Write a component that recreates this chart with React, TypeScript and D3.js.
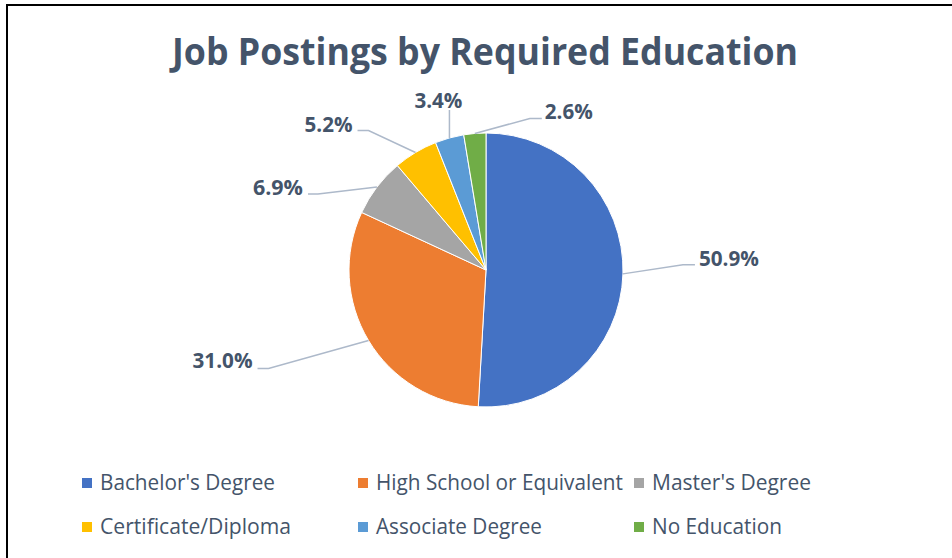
import React from "react";
import * as d3 from "d3";

const categories = [
  "Bachelor's Degree",
  "High School or Equivalent",
  "Master's Degree",
  "Certificate/Diploma",
  "Associate Degree",
  "No Education",
];
const values = [50.9, 31.0, 6.9, 5.2, 3.4, 2.6];
const colors = ["#4472C4", "#ED7D31", "#A5A5A5", "#FFC000", "#5B9BD5", "#70AD47"];
const title = "Job Postings by Required Education";

// leader-line layout per slice: elbow & end offsets from slice edge point, label anchor
const labelLayout = [
  { ex: 60, ey: -9, lx: 72, ly: -9, anchor: "start", tx: 4, ty: 1, tw: 60 },
  { ex: -100, ey: 28, lx: -111, ly: 28, anchor: "end", tx: -5, ty: 0, tw: 60 },
  { ex: -59, ey: 7, lx: -69, ly: 7, anchor: "end", tx: -5, ty: 1, tw: 50 },
  { ex: -47, ey: -22, lx: -58, ly: -22, anchor: "end", tx: -5, ty: 1, tw: 48 },
  { ex: 0, ey: -28, lx: 0, ly: -28, anchor: "middle", tx: -11, ty: -2, tw: 48 },
  { ex: 55, ey: -15, lx: 67, ly: -15, anchor: "start", tx: 3, ty: 1, tw: 48 },
];

const legendW = [175, 247, 159, 191, 166, 130];

export default function App() {
  const W = 952;
  const H = 558;
  const cx = 486;
  const cy = 270;
  const r = 137;
  const textColor = "#44546A";
  const font = "'Open Sans', 'Noto Sans', sans-serif";

  const pie = d3.pie<number>().sort(null).value((d) => d);
  const arcs = pie(values);
  const arcGen = d3.arc<d3.PieArcDatum<number>>().innerRadius(0).outerRadius(r);

  const legendCols = [82, 358, 634];
  const legendRows = [483, 527];

  return (
    <svg
      width={W}
      height={H}
      style={{ position: "absolute", left: 0, top: 0, background: "#fff" }}
    >
      <rect x={7} y={5} width={1000} height={700} fill="#fff" stroke="#000" strokeWidth={2} />
      <text
        x={485}
        y={65}
        textAnchor="middle"
        fontFamily={font}
        fontWeight={700}
        fontSize={37}
        fill={textColor}
        textLength={626}
        lengthAdjust="spacingAndGlyphs"
      >
        {title}
      </text>
      <g transform={`translate(${cx},${cy})`}>
        {arcs.map((a, i) => (
          <path key={i} d={arcGen(a) || ""} fill={colors[i]} stroke="#fff" strokeWidth={1} />
        ))}
      </g>
      {arcs.map((a, i) => {
        const mid = (a.startAngle + a.endAngle) / 2;
        const px = cx + r * Math.sin(mid);
        const py = cy - r * Math.cos(mid);
        const L = labelLayout[i];
        const ex = px + L.ex;
        const ey = py + L.ey;
        const lx = px + L.lx;
        const ly = py + L.ly;
        const txt = d3.format(".1f")(values[i]) + "%";
        const tx = L.anchor === "middle" ? lx + L.tx : lx + L.tx;
        return (
          <g key={i}>
            <polyline
              points={`${px},${py} ${ex},${ey} ${lx},${ly}`}
              fill="none"
              stroke="#ADB9CA"
              strokeWidth={1.5}
            />
            <text
              x={tx}
              y={ly + L.ty}
              textAnchor={L.anchor as any}
              fontFamily={font}
              fontWeight={700}
              fontSize={22}
              fill={textColor}
              textLength={L.tw}
              lengthAdjust="spacingAndGlyphs"
            >
              {txt}
            </text>
          </g>
        );
      })}
      {categories.map((c, i) => {
        const col = i % 3;
        const row = Math.floor(i / 3);
        const x = legendCols[col];
        const y = legendRows[row];
        return (
          <g key={c}>
            <rect x={x} y={y - 5} width={10} height={10} fill={colors[i]} />
            <text
              x={x + 18}
              y={y + 7}
              fontFamily={font}
              fontSize={21}
              fill={textColor}
              textLength={legendW[i]}
              lengthAdjust="spacingAndGlyphs"
            >
              {c}
            </text>
          </g>
        );
      })}
    </svg>
  );
}
